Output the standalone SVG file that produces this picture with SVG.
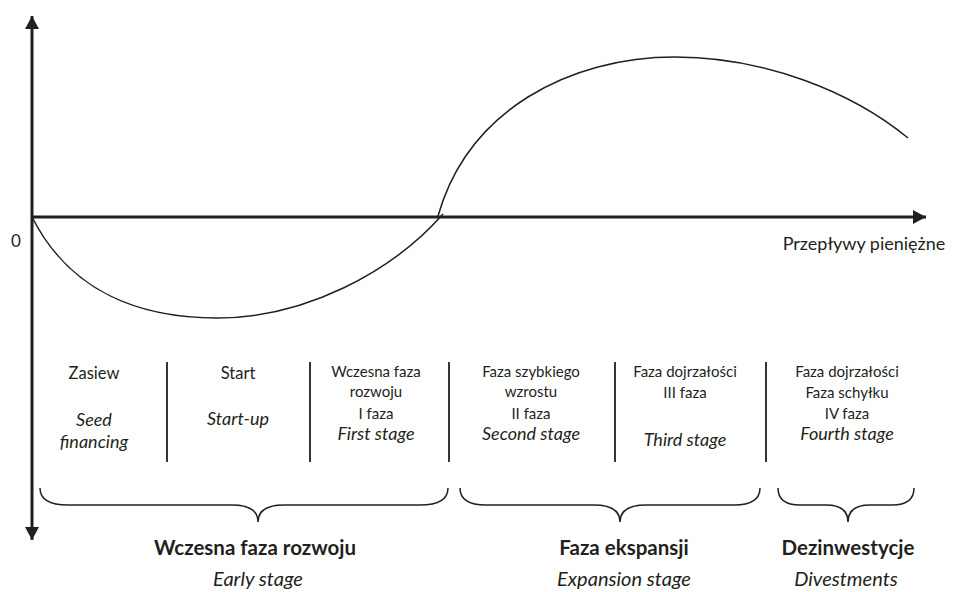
<svg xmlns="http://www.w3.org/2000/svg" width="954" height="592" viewBox="0 0 954 592">
<style>
.ax{stroke:#231f20;stroke-width:3;fill:none}
.cv{stroke:#231f20;stroke-width:1.5;fill:none}
.dv{stroke:#231f20;stroke-width:1.8;fill:none}
.br{stroke:#231f20;stroke-width:1.5;fill:none}
text{font-family:Lato,"Open Sans","Liberation Sans",sans-serif;fill:#231f20;text-anchor:middle}
.c{font-size:15px}
.cl{font-size:16.5px}
.i{font-style:italic;font-size:18px}
.b{font-size:20.5px;font-weight:bold}
.e{font-size:20px;font-style:italic}
</style>
<defs>
<marker id="ah" markerWidth="14" markerHeight="14" refX="13" refY="7" orient="auto" markerUnits="userSpaceOnUse">
<path d="M0,0 L13,7 L0,14 z" fill="#231f20"/>
</marker>
</defs>
<g id="axes">
<line class="ax" x1="32" y1="217" x2="32" y2="16" marker-end="url(#ah)"/>
<line class="ax" x1="32" y1="217" x2="32" y2="540" marker-end="url(#ah)"/>
<line class="ax" x1="32" y1="217" x2="926" y2="217" marker-end="url(#ah)"/>
<text x="16" y="247" style="font-size:17px">0</text>
<text x="864" y="250" style="font-size:18px">Przepływy pieniężne</text>
</g>
<g id="curves">
<path class="cv" d="M32,217 C70,292 140,318 217,318 C305,318 392,272 443,214"/>
<path class="cv" d="M438,216 C468,110 570,57 675,57 C765,57 852,92 908,138"/>
</g>
<g id="dividers">
<line class="dv" x1="167" y1="362" x2="167" y2="462"/>
<line class="dv" x1="310" y1="362" x2="310" y2="462"/>
<line class="dv" x1="449" y1="362" x2="449" y2="462"/>
<line class="dv" x1="615" y1="362" x2="615" y2="462"/>
<line class="dv" x1="766" y1="362" x2="766" y2="462"/>
</g>
<g id="col1">
<text class="cl" x="94" y="379">Zasiew</text>
<text class="i" x="94" y="426">Seed</text>
<text class="i" x="94" y="448">financing</text>
</g>
<g id="col2">
<text class="cl" x="238" y="379">Start</text>
<text class="i" x="238" y="425">Start-up</text>
</g>
<g id="col3">
<text class="c" x="376" y="377">Wczesna faza</text>
<text class="c" x="376" y="397">rozwoju</text>
<text class="c" x="376" y="419">I faza</text>
<text class="i" x="376" y="440">First stage</text>
</g>
<g id="col4">
<text class="c" x="531" y="377">Faza szybkiego</text>
<text class="c" x="531" y="397">wzrostu</text>
<text class="c" x="531" y="419">II faza</text>
<text class="i" x="531" y="440">Second stage</text>
</g>
<g id="col5">
<text class="c" x="685" y="377">Faza dojrzałości</text>
<text class="c" x="685" y="398">III faza</text>
<text class="i" x="685" y="446">Third stage</text>
</g>
<g id="col6">
<text class="c" x="847" y="377">Faza dojrzałości</text>
<text class="c" x="847" y="398">Faza schyłku</text>
<text class="c" x="847" y="419">IV faza</text>
<text class="i" x="847" y="440">Fourth stage</text>
</g>
<g id="brace1">
<path class="br" d="M40,488 Q40,505 68,505 L232,505 Q258,505 258,522 Q258,505 284,505 L420,505 Q448,505 448,488"/>
<text class="b" x="255" y="555">Wczesna faza rozwoju</text>
<text class="e" x="258" y="586">Early stage</text>
</g>
<g id="brace2">
<path class="br" d="M460,488 Q460,505 486,505 L594,505 Q620,505 620,522 Q620,505 646,505 L734,505 Q760,505 760,488"/>
<text class="b" x="624" y="555">Faza ekspansji</text>
<text class="e" x="624" y="586">Expansion stage</text>
</g>
<g id="brace3">
<path class="br" d="M778,488 Q778,505 800,505 L826,505 Q848,505 848,522 Q848,505 870,505 L892,505 Q914,505 914,488"/>
<text class="b" x="848" y="555">Dezinwestycje</text>
<text class="e" x="846" y="586">Divestments</text>
</g>
</svg>
